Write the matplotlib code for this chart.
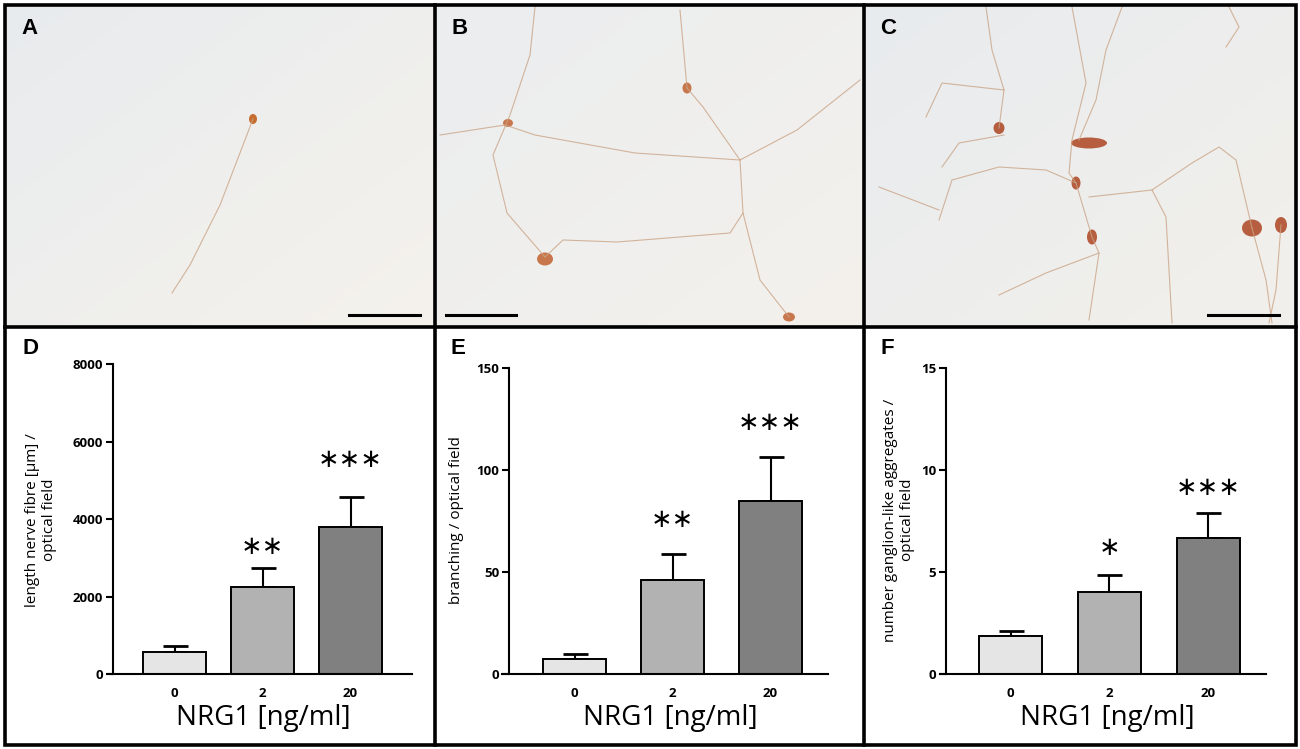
import numpy as np
import matplotlib
matplotlib.use("Agg")
import matplotlib.pyplot as plt
from matplotlib.patches import Rectangle, Ellipse
from matplotlib.lines import Line2D
from matplotlib.colors import LinearSegmentedColormap

W, H = 1300, 749
plt.rcParams['font.family'] = ['Open Sans', 'DejaVu Sans']

# ---------------------------------------------------------
# bar chart data (D, E, F)
# ---------------------------------------------------------
doses = ['0', '2', '20']
fibre_len = [585, 2255, 3800]
fibre_err = [145, 490, 765]
branching = [7.7, 46.1, 84.8]
branching_err = [2.4, 12.8, 21.5]
ganglia = [1.88, 4.01, 6.67]
ganglia_err = [0.25, 0.83, 1.24]
fibre_stars = ['', '∗∗', '∗∗∗']
fibre_star_y = [None, 3280, 5520]
branching_stars = ['', '∗∗', '∗∗∗']
branching_star_y = [None, 75.5, 122.8]
ganglia_stars = ['', '∗', '∗∗∗']
ganglia_star_y = [None, 6.16, 9.13]
bar_colors = ['#e5e5e5', '#b2b2b2', '#808080']

# ---------------------------------------------------------
# micrograph sketches (A, B, C), panel pixel coordinates
# ---------------------------------------------------------
cells_a = [(248, 114, 8, 10)]
fibres_a = [[(248, 114), (215, 200), (185, 260), (167, 288)]]

cells_b = [(252, 83, 9, 11), (110, 254, 16, 13), (354, 312, 12, 9), (73, 118, 10, 8)]
fibres_b = [
    [(252, 83), (268, 102), (305, 155), (308, 208), (325, 275), (354, 312)],
    [(305, 155), (362, 125), (425, 75)],
    [(110, 252), (72, 208), (58, 150), (75, 110), (95, 50), (100, 2)],
    [(110, 252), (128, 235), (182, 237), (295, 228), (308, 208)],
    [(5, 130), (70, 120), (100, 130), (200, 148), (305, 155)],
    [(245, 5), (252, 83)],
]

cells_c = [(135, 123, 11, 12), (225, 138, 36, 11), (212, 178, 9, 13),
           (228, 232, 10, 15), (388, 223, 20, 17), (417, 220, 12, 16)]
fibres_c = [
    [(122, 2), (128, 45), (140, 85), (135, 123)],
    [(140, 85), (78, 78), (62, 112)],
    [(208, 2), (222, 78), (208, 135), (205, 168), (212, 178), (228, 232), (235, 248), (225, 315)],
    [(258, 2), (242, 45), (232, 95), (215, 135)],
    [(225, 192), (288, 185), (328, 158), (355, 142), (372, 155), (388, 223)],
    [(288, 185), (302, 212), (308, 318)],
    [(75, 215), (88, 175), (135, 162), (182, 165), (212, 178)],
    [(15, 182), (75, 205)],
    [(135, 290), (182, 268), (235, 248)],
    [(417, 220), (412, 285), (405, 318)],
    [(388, 223), (402, 275), (408, 318)],
    [(365, 2), (375, 22), (362, 42)],
    [(140, 130), (95, 138), (78, 162)],
]


def fx(x):
    return x / W


def fy(y):
    return 1 - y / H


fig = plt.figure(figsize=(13, 7.49), dpi=100)
fig.patch.set_facecolor('white')

# ---------------------------------------------------------
# top row: micrographs
# ---------------------------------------------------------
panels = [
    ('A', 5, 431, cells_a, fibres_a, '#c2601c', ('#e8ebee', '#f5f2ec'), (349, 420)),
    ('B', 435, 429, cells_b, fibres_b, '#c46a3c', ('#ebedef', '#f4f1ec'), (446, 516)),
    ('C', 864, 432, cells_c, fibres_c, '#b04e2c', ('#e8ebee', '#f2f0eb'), (1208, 1279)),
]
gx, gy = np.meshgrid(np.linspace(0, 1, 80), np.linspace(0, 1, 60))
shade = (gx + gy) / 2
for letter, x0, pw, cells, fibres, cell_col, grad, bar in panels:
    ax = fig.add_axes([fx(x0), fy(327), fx(pw), 322 / H])
    cmap = LinearSegmentedColormap.from_list('bg', list(grad))
    ax.imshow(shade, cmap=cmap, extent=(0, pw, 322, 0), interpolation='bilinear', aspect='auto')
    for f in fibres:
        xs, ys = zip(*f)
        ax.plot(xs, ys, color='#cba486', lw=0.8, alpha=0.8)
    for cx, cy, w, h in cells:
        ax.add_patch(Ellipse((cx, cy), w, h, facecolor=cell_col, edgecolor='none', alpha=0.9))
    ax.set_xlim(0, pw)
    ax.set_ylim(322, 0)
    ax.axis('off')
    fig.text(fx(x0 + 16), fy(29), letter, fontsize=16, fontweight='bold',
             family='Liberation Sans', ha='left', va='center')
    fig.add_artist(Line2D([fx(bar[0]), fx(bar[1])], [fy(315), fy(315)], color='black', lw=2.2))

# ---------------------------------------------------------
# bottom row: bar charts
# ---------------------------------------------------------
charts = [
    ('D', fibre_len, fibre_err, fibre_stars, fibre_star_y, 8000, [0, 2000, 4000, 6000, 8000],
     108, 412, 174.5, 88, 113, 364.3, 'length nerve fibre [µm] /\noptical field', 41, 263, 22),
    ('E', branching, branching_err, branching_stars, branching_star_y, 150, [0, 50, 100, 150],
     502, 828, 574.5, 98, 509, 367.7, 'branching / optical field', 457, 670, 450),
    ('F', ganglia, ganglia_err, ganglia_stars, ganglia_star_y, 15, [0, 5, 10, 15],
     940, 1266, 1010.5, 98.75, 946, 367.7, 'number ganglion-like aggregates /\noptical field',
     899, 1107, 880),
]
y0_px = 674.3
for (letter, vals, errs, stars, star_y, ymax, yticks, xl, xr, c0, step, yax, top,
     ylab, ylab_x, xlab_x, let_x) in charts:
    ax = fig.add_axes([fx(xl), fy(y0_px), fx(xr - xl), (y0_px - top) / H])
    x = np.arange(len(vals))
    ax.bar(x, vals, width=63 / step, color=bar_colors, edgecolor='black', linewidth=1.4, zorder=2)
    ax.errorbar(x, vals, yerr=[np.zeros(len(errs)), errs], fmt='none', ecolor='black',
                elinewidth=1.5, capsize=9, capthick=2.0, zorder=1)
    for xi, s, sy in zip(x, stars, star_y):
        if s:
            ax.text(xi, sy, s, ha='center', va='center', fontsize=18.5, family='DejaVu Sans')
    ax.set_xlim((xl - c0) / step, (xr - c0) / step)
    ax.set_ylim(0, ymax)
    ax.spines['left'].set_position(('data', (yax - c0) / step))
    ax.spines['right'].set_visible(False)
    ax.spines['top'].set_visible(False)
    ax.spines['left'].set_linewidth(1.5)
    ax.spines['bottom'].set_linewidth(1.5)
    ax.set_yticks(yticks)
    ax.set_yticklabels([str(t) for t in yticks], fontweight='bold', fontsize=9.5)
    ax.set_xticks(x)
    ax.set_xticklabels(doses, fontweight='bold', fontsize=9.5)
    ax.tick_params(axis='y', length=5, width=1.5, pad=2)
    ax.tick_params(axis='x', length=0, pad=9)
    ax.set_facecolor('none')
    fig.text(fx(ylab_x), fy(520), ylab, rotation=90, ha='center', va='center',
             ma='center', fontsize=11)
    fig.text(fx(xlab_x), fy(718), 'NRG1 [ng/ml]', ha='center', va='center', fontsize=20)
    fig.text(fx(let_x), fy(349), letter, fontsize=16, fontweight='bold',
             family='Liberation Sans', ha='left', va='center')

# panel frame
fig.add_artist(Rectangle((fx(5), fy(745)), fx(1291), (745 - 5) / H, transform=fig.transFigure,
                         facecolor='none', edgecolor='black', lw=2.6))
for xs in (435, 864):
    fig.add_artist(Line2D([fx(xs), fx(xs)], [fy(5), fy(745)], color='black', lw=2.6))
fig.add_artist(Line2D([fx(5), fx(1296)], [fy(327), fy(327)], color='black', lw=2.6))

fig.savefig('out.png', dpi=100)
